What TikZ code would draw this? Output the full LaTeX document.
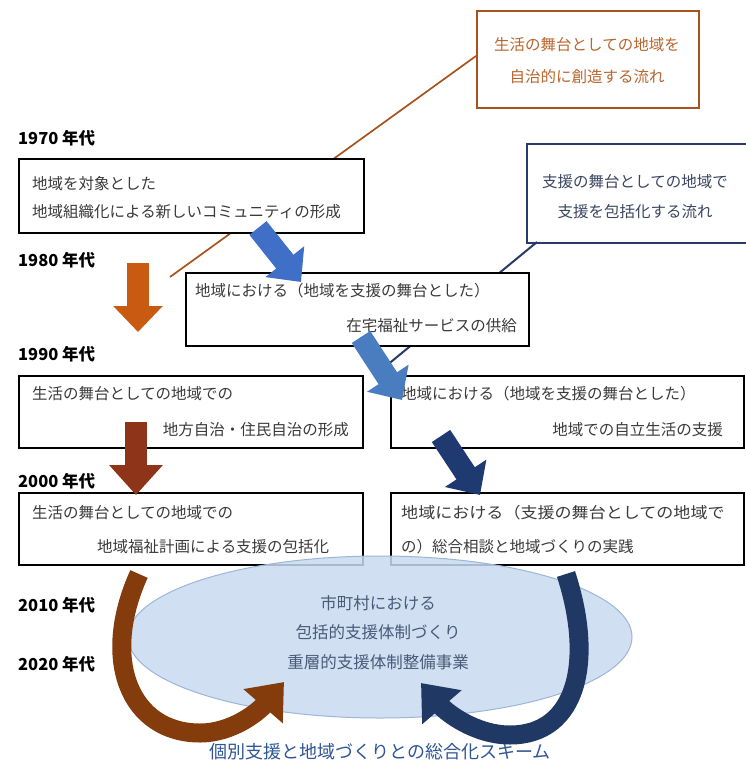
\documentclass[tikz,border=0pt]{standalone}
\usepackage{fontspec}
\setmainfont{Noto Sans CJK JP}
\usepackage{graphicx}
\usetikzlibrary{arrows.meta,shapes.geometric}
\definecolor{orangeline}{HTML}{A8521E}
\definecolor{orangetext}{HTML}{B8662E}
\definecolor{navyline}{HTML}{2A3A68}
\definecolor{navytext}{HTML}{3A4560}
\definecolor{boxtext}{HTML}{3A3A3A}
\definecolor{arrorange}{HTML}{C85A12}
\definecolor{arrred}{HTML}{8E3418}
\definecolor{arrblueA}{HTML}{3F6FC6}
\definecolor{arrblueB}{HTML}{4A7CC0}
\definecolor{arrnavy}{HTML}{1F3A70}
\definecolor{curvebrown}{HTML}{843C0C}
\definecolor{curvenavy}{HTML}{1F3864}
\definecolor{ellfill}{HTML}{C9DAF0}
\definecolor{elldraw}{HTML}{9DB5D8}
\definecolor{elltext}{HTML}{4A5A78}
\definecolor{schemetext}{HTML}{2E5597}
\begin{document}
\begin{tikzpicture}[x=1pt,y=-1pt,
  box/.style={draw=black, line width=2pt, fill=white, rectangle, anchor=north west, inner sep=0pt},
  txt/.style={inner sep=0pt, font=\fontsize{15.5}{18}\selectfont, text=boxtext},
  yr/.style={inner sep=0pt, anchor=west, font=\fontsize{16.5}{18}\selectfont\bfseries, text=black},
  blockarr/.style={line width=22pt, -{Triangle[length=26pt,width=48pt]}},
  curvearr/.style={line width=19pt, -{Triangle[length=32pt,width=50pt]}},
  ]
\useasboundingbox (0,0) rectangle (745,769);
\fill[white] (0,0) rectangle (745,769);

% flow boxes (top right)
\node[box, draw=orangeline, line width=2.4pt, minimum width=222pt, minimum height=97pt] (OB) at (476,10) {};
\node[txt, text=orangetext] (OB1) at (587,45) {生活の舞台としての地域を};
\node[txt, text=orangetext] (OB2) at (587,77) {自治的に創造する流れ};

\node[box, draw=navyline, line width=2.4pt, minimum width=224pt, minimum height=99pt] (NB) at (526,143) {};
\node[txt, text=navytext] (NB1) at (635,182) {支援の舞台としての地域で};
\node[txt, text=navytext] (NB2) at (635,212) {支援を包括化する流れ};

% connector lines (behind boxes)
\coordinate (ol1) at (476,56);
\coordinate (ol2) at (170,277);
\draw[orangeline, line width=1.7pt] (ol1) -- (ol2);
\coordinate (nl1) at (537,242);
\coordinate (nl2) at (386,366);
\draw[navyline, line width=2pt] (nl1) -- (nl2);

% year labels
\node[yr] (y70) at (18,138) {1970 年代};
\node[yr] (y80) at (18,260) {1980 年代};
\node[yr] (y90) at (18,354) {1990 年代};
\node[yr] (y00) at (18,481) {2000 年代};
\node[yr] (y10) at (18,605) {2010 年代};
\node[yr] (y20) at (18,664) {2020 年代};

% boxes
\node[box, minimum width=345pt, minimum height=74pt] (A) at (18,158) {};
\node[txt, anchor=west] (A1) at (32,184) {地域を対象とした};
\node[txt, anchor=west] (A2) at (32,212) {地域組織化による新しいコミュニティの形成};

\node[box, minimum width=343pt, minimum height=73pt] (B) at (185,272) {};
\node[txt, anchor=west] (B1) at (195,291) {地域における（地域を支援の舞台とした）};
\node[txt, anchor=east] (B2) at (517,326) {在宅福祉サービスの供給};

\node[box, minimum width=344pt, minimum height=72pt] (C) at (18,375) {};
\node[txt, anchor=west] (C1) at (32,394) {生活の舞台としての地域での};
\node[txt, anchor=east] (C2) at (349,430) {地方自治・住民自治の形成};

\node[box, minimum width=353pt, minimum height=72pt] (D) at (390,375) {};
\node[txt, anchor=west] (D1) at (401,394) {地域における（地域を支援の舞台とした）};
\node[txt, anchor=east] (D2) at (723,430) {地域での自立生活の支援};

\node[box, minimum width=344pt, minimum height=72pt] (E) at (18,492) {};
\node[txt, anchor=west] (E1) at (32,513) {生活の舞台としての地域での};
\node[txt, anchor=west] (E2) at (97,547) {地域福祉計画による支援の包括化};

\node[box, minimum width=353pt, minimum height=72pt] (F) at (390,492) {};
\node[txt, anchor=west] (F1) at (401,513) {\scalebox{1.1}[1]{地域における（支援の舞台としての地域で}};
\node[txt, anchor=west] (F2) at (401,547) {の）総合相談と地域づくりの実践};

% straight block arrows
\coordinate (oa1) at (138,263); \coordinate (oa2) at (138,332);
\draw[blockarr, draw=arrorange] (oa1) -- (oa2);
\coordinate (ra1) at (136,422); \coordinate (ra2) at (136,495);
\draw[blockarr, line width=22pt, -{Triangle[length=30pt,width=52pt]}, draw=arrred] (ra1) -- (ra2);
\coordinate (ba1) at (258,228); \coordinate (ba2) at (301,282);
\draw[blockarr, draw=arrblueA] (ba1) -- (ba2);
\coordinate (bb1) at (361,337); \coordinate (bb2) at (402,400);
\draw[blockarr, draw=arrblueB] (bb1) -- (bb2);
\coordinate (na1) at (441,436); \coordinate (na2) at (480,495);
\draw[blockarr, draw=arrnavy] (na1) -- (na2);

% ellipse
\node[ellipse, draw=elldraw, line width=1pt, fill=ellfill, fill opacity=0.85, draw opacity=1,
  minimum width=504pt, minimum height=162pt, inner sep=0pt] (EL) at (380,637) {};
\node[txt, text=elltext, font=\fontsize{16.5}{18}\selectfont] (EL1) at (378,603) {市町村における};
\node[txt, text=elltext, font=\fontsize{16.5}{18}\selectfont] (EL2) at (378,632) {包括的支援体制づくり};
\node[txt, text=elltext, font=\fontsize{16.5}{18}\selectfont] (EL3) at (378,662) {重層的支援体制整備事業};

% curved arrows
\coordinate (cb1) at (139,574); \coordinate (cbm) at (200,733); \coordinate (cb2) at (284,682);
\draw[curvearr, draw=curvebrown] (cb1) .. controls (100,660) and (130,733) .. (cbm) .. controls (232,733) and (258,712) .. (cb2);
\coordinate (cn1) at (566,574); \coordinate (cnm) at (510,735); \coordinate (cn2) at (421,683);
\draw[curvearr, draw=curvenavy] (cn1) .. controls (594,660) and (578,735) .. (cnm) .. controls (475,735) and (446,712) .. (cn2);

% bottom caption
\node[inner sep=0pt, font=\fontsize{18}{20}\selectfont, text=schemetext] (SC) at (380,752) {個別支援と地域づくりとの総合化スキーム};
\end{tikzpicture}
\end{document}
